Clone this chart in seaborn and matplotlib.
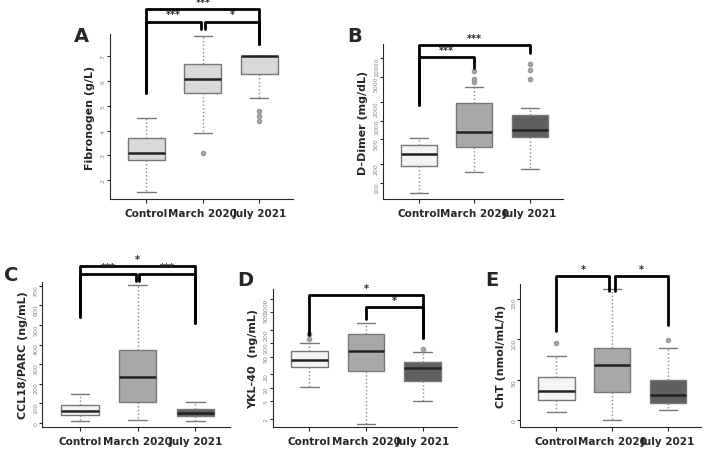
import matplotlib
matplotlib.use("Agg")
import matplotlib.pyplot as plt
import seaborn as sns

sns.set_style("ticks")
plt.rcParams['font.family'] = ['DejaVu Sans']

groups = ["Control", "March 2020", "July 2021"]

# five-number summaries: whislo, q1, med, q3, whishi
fib_stats = [[1.5, 2.8, 3.1, 3.7, 4.5], [3.9, 5.5, 6.1, 6.7, 7.8], [5.3, 6.3, 7.0, 7.0, 7.0]]
fib_out = [[], [3.1], [4.4, 4.6, 4.8]]
ddim_stats = [[70, 190, 290, 400, 520], [150, 380, 650, 1900, 3500], [170, 540, 700, 1250, 1600]]
ddim_out = [[], [4200, 4700, 6200], [4600, 6500, 8000]]
ccl_stats = [[10, 40, 62, 92, 150], [15, 108, 235, 370, 705], [10, 35, 52, 70, 105]]
ccl_out = [[], [], []]
ykl_stats = [[10.5, 29, 42, 66, 100], [1.5, 24, 67, 160, 280], [5, 14, 27, 38, 63]]
ykl_out = [[125, 160], [], [75]]
cht_stats = [[10, 25, 36, 53, 80], [1, 35, 68, 89, 162], [13, 21, 31, 50, 89]]
cht_out = [[96], [], [99]]

grey3 = ["#f4f4f4", "#a8a8a8", "#606060"]
greyA = ["#d9d9d9"] * 3


def draw(ax, stats, outs, colors):
    bx = []
    for g, s, o in zip(groups, stats, outs):
        bx.append(dict(label=g, whislo=s[0], q1=s[1], med=s[2], q3=s[3], whishi=s[4], fliers=o))
    b = ax.bxp(bx, positions=[0, 1, 2], widths=0.65, patch_artist=True, showcaps=True,
               boxprops=dict(edgecolor="#777777", linewidth=1),
               medianprops=dict(color="#222222", linewidth=1.8),
               whiskerprops=dict(color="#888888", linestyle=":", linewidth=1),
               capprops=dict(color="#777777", linewidth=1),
               flierprops=dict(marker="o", markersize=3, markerfacecolor="#aaaaaa",
                               markeredgecolor="#999999"))
    for p, c in zip(b["boxes"], colors):
        p.set_facecolor(c)
    ax.set_xticks([0, 1, 2])
    ax.set_xticklabels(groups, fontweight="bold", fontsize=7.5)
    ax.tick_params(axis="y", labelsize=4.5, labelcolor="#888888", rotation=90, length=2, pad=1)
    ax.tick_params(axis="x", length=3)
    for sp in ["top", "right"]:
        ax.spines[sp].set_visible(False)
    ax.set_xlim(-0.65, 2.6)


def bracket(ax, x1, x2, y, y1, y2, text):
    ax.plot([x1, x1, x2, x2], [y1, y, y, y2], color="black", lw=2, clip_on=False)
    ax.annotate(text, ((x1 + x2) / 2, y), xytext=(0, 1.5), textcoords="offset points",
                ha="center", va="bottom", fontsize=7, fontweight="bold", annotation_clip=False)


fig = plt.figure(figsize=(7.08, 4.6), dpi=100)

axA = fig.add_axes([0.155, 0.565, 0.259, 0.359])
draw(axA, fib_stats, fib_out, greyA)
axA.set_ylim(1.23, 7.9)
axA.set_yticks([2, 3, 4, 5, 6, 7])
axA.set_ylabel("Fibronogen (g/L)", fontweight="bold", fontsize=8)
bracket(axA, 0, 2, 8.9, 5.5, 7.5, "***")
bracket(axA, 0, 0.97, 8.4, 5.5, 8.1, "***")
bracket(axA, 1.03, 2, 8.4, 8.1, 7.5, "*")
fig.text(0.105, 0.92, "A", fontsize=14, fontweight="bold", va="center")

axB = fig.add_axes([0.541, 0.565, 0.254, 0.337])
draw(axB, ddim_stats, ddim_out, grey3)
axB.set_yscale("log")
axB.set_ylim(55, 17000)
axB.set_yticks([100, 200, 500, 1000, 2000, 5000, 10000])
axB.set_yticklabels(["100", "200", "500", "1000", "2000", "5000", "10000"])
axB.minorticks_off()
axB.set_ylabel("D-Dimer (mg/dL)", fontweight="bold", fontsize=8)
bracket(axB, 0, 2, 16500, 1800, 12000, "***")
bracket(axB, 0, 1, 10400, 1800, 7000, "***")
fig.text(0.49, 0.92, "B", fontsize=14, fontweight="bold", va="center")

axC = fig.add_axes([0.06, 0.07, 0.265, 0.315])
draw(axC, ccl_stats, ccl_out, grey3)
axC.set_ylim(-20, 720)
axC.set_yticks(range(0, 800, 100))
axC.set_ylabel("CCL18/PARC (ng/mL)", fontweight="bold", fontsize=8)
bracket(axC, 0, 2, 800, 540, 510, "*")
bracket(axC, 0, 0.97, 760, 540, 725, "***")
bracket(axC, 1.03, 2, 760, 725, 510, "***")
fig.text(0.005, 0.40, "C", fontsize=14, fontweight="bold", va="center")

axD = fig.add_axes([0.385, 0.07, 0.26, 0.3])
draw(axD, ykl_stats, ykl_out, grey3)
axD.set_yscale("log")
axD.set_ylim(1.3, 1700)
axD.set_yticks([2, 5, 10, 20, 50, 100, 200, 500, 1000])
axD.set_yticklabels(["2", "5", "10", "20", "50", "100", "200", "500", "1000"])
axD.minorticks_off()
axD.set_ylabel("YKL-40  (ng/mL)", fontweight="bold", fontsize=8)
bracket(axD, 0, 2, 1200, 150, 130, "*")
bracket(axD, 1, 2, 650, 350, 130, "*")
fig.text(0.335, 0.39, "D", fontsize=14, fontweight="bold", va="center")

axE = fig.add_axes([0.735, 0.07, 0.255, 0.31])
draw(axE, cht_stats, cht_out, grey3)
axE.set_ylim(-8, 168)
axE.set_yticks([0, 50, 100, 150])
axE.set_ylabel("ChT (nmol/mL/h)", fontweight="bold", fontsize=8)
bracket(axE, 0, 0.95, 178, 110, 160, "*")
bracket(axE, 1.05, 2, 178, 160, 118, "*")
fig.text(0.685, 0.39, "E", fontsize=14, fontweight="bold", va="center")

fig.savefig("out.png", dpi=100)
